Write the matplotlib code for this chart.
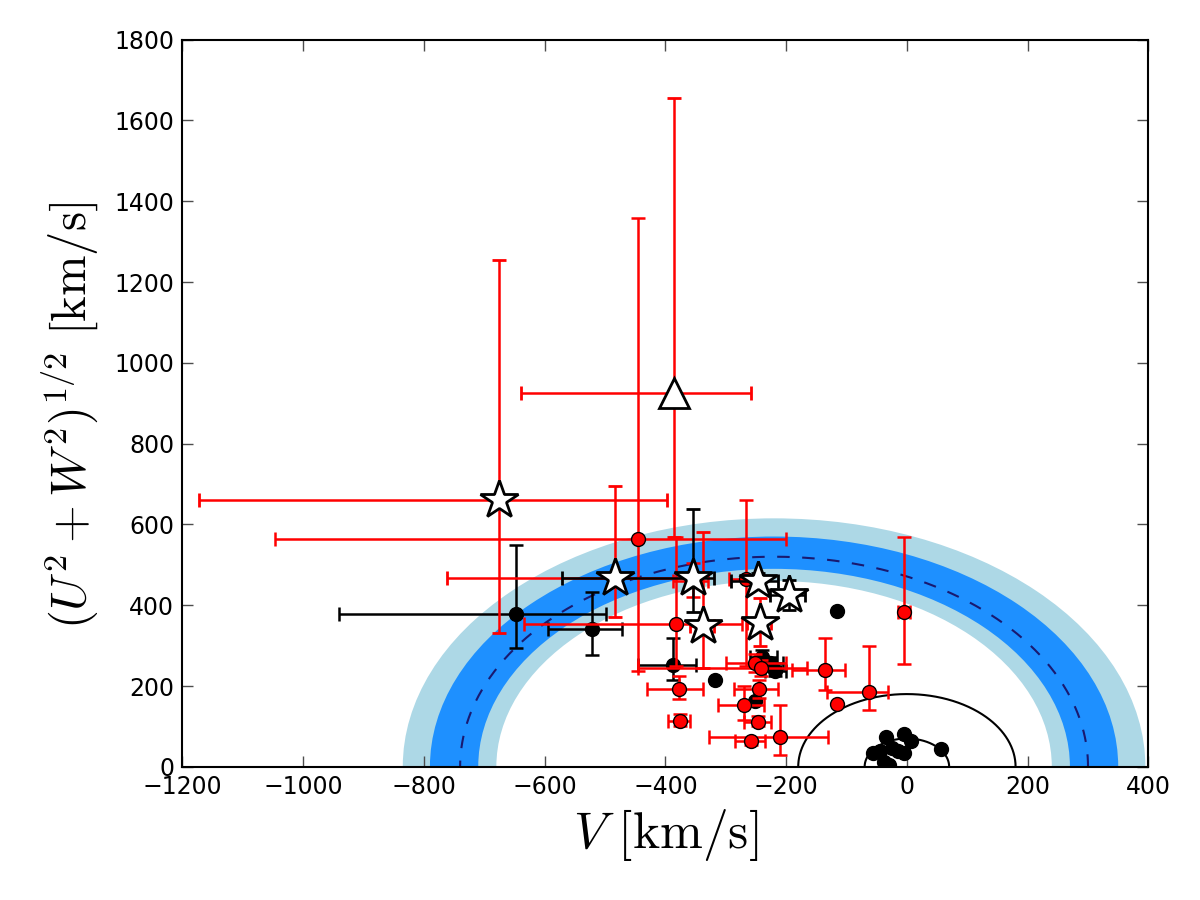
import numpy as np
import matplotlib
matplotlib.use('Agg')
import matplotlib.pyplot as plt
from matplotlib.patches import Wedge

plt.rcParams['mathtext.fontset'] = 'cm'

# escape speed bands (centre at -V_lsr, radii in km/s)
v_center = -220
band_outer = (460, 615)
band_inner = (490, 570)
v_esc = 520
thick_disk_r = 180
thin_disk_r = 70

# red points with errors: V, Y, V_lo, V_hi, Y_lo, Y_hi
red_v = [-446, -354, -267, -382, -4, -136, -62, -378, -376, -252, -242, -245, -269, -246, -259, -210]
red_y = [564, 459, 464, 354, 384, 240, 186, 192, 114, 257, 245, 192, 153, 111, 63, 75]
red_vlo = [-1046, -387, -295, -635, -15, -190, -132, -431, -395, -300, -445, -287, -313, -270, -285, -328]
red_vhi = [-200, -330, -240, -273, 5, -103, -32, -337, -360, -200, -165, -213, -236, -225, -235, -130]
red_ylo = [238, 421, 250, 250, 255, 190, 141, 168, 100, 235, 225, 170, 116, 100, 55, 30]
red_yhi = [1359, 505, 661, 570, 570, 318, 298, 224, 130, 280, 265, 215, 199, 125, 72, 152]
red_noerr_v = [-116]
red_noerr_y = [156]

# black points with errors
blk_v = [-648, -521, -387, -240, -226, -218]
blk_y = [379, 341, 252, 273, 257, 236]
blk_vlo = [-940, -594, -445, -260, -245, -235]
blk_vhi = [-499, -472, -350, -215, -205, -200]
blk_ylo = [293, 277, 215, 255, 245, 225]
blk_yhi = [548, 433, 318, 290, 270, 250]
blk_noerr_v = [-318, -251, -115, -34, -5, 7, 57, -56, -44, -25, -14, -4, -38, -30]
blk_noerr_y = [215, 164, 386, 75, 82, 65, 44, 34, 38, 46, 40, 34, 13, 5]

# stars
star_v = [-676, -484, -355, -247, -196, -244, -338]
star_y = [661, 468, 468, 459, 426, 356, 349]
star_vlo = [-1172, -761, -572, -291, -226, -265, -360]
star_vhi = [-397, -350, -320, -213, -168, -225, -320]
star_ylo = [332, 371, 383, 440, 389, 300, 245]
star_yhi = [1255, 695, 639, 480, 463, 418, 580]
star_ecol = ['red', 'red', 'black', 'black', 'black', 'red', 'red']

# triangle
tri_v, tri_y = -385, 925
tri_vlo, tri_vhi, tri_ylo, tri_yhi = -640, -259, 570, 1655


def asym(c, lo, hi):
    c = np.asarray(c, float)
    return [c - np.asarray(lo), np.asarray(hi) - c]


fig = plt.figure(figsize=(12, 9), dpi=100)
ax = fig.add_axes([0.152, 0.148, 0.805, 0.808])

ax.add_patch(Wedge((v_center, 0), band_outer[1], 0, 180,
                   width=band_outer[1] - band_outer[0], color='lightblue', lw=0, zorder=1))
ax.add_patch(Wedge((v_center, 0), band_inner[1], 0, 180,
                   width=band_inner[1] - band_inner[0], color='dodgerblue', lw=0, zorder=1))
th = np.linspace(0, np.pi, 400)
ax.plot(v_center + v_esc * np.cos(th), v_esc * np.sin(th), '--', color='midnightblue',
        lw=1.5, dashes=(6, 6), zorder=2)
ax.plot(thick_disk_r * np.cos(th), thick_disk_r * np.sin(th), 'k-', lw=1.5, zorder=2)
ax.plot(thin_disk_r * np.cos(th), thin_disk_r * np.sin(th), 'k-', lw=1.5, zorder=2)

ekw = dict(elinewidth=1.8, capsize=5, capthick=1.8, linestyle='none')

ax.errorbar(blk_v, blk_y, xerr=asym(blk_v, blk_vlo, blk_vhi), yerr=asym(blk_y, blk_ylo, blk_yhi),
            fmt='o', color='black', ms=10, zorder=3, **ekw)
ax.plot(blk_noerr_v, blk_noerr_y, 'o', color='black', ms=10, zorder=3)

ax.errorbar(red_v, red_y, xerr=asym(red_v, red_vlo, red_vhi), yerr=asym(red_y, red_ylo, red_yhi),
            fmt='o', mfc='red', mec='black', ecolor='red', ms=10, zorder=4, **ekw)
ax.plot(red_noerr_v, red_noerr_y, 'o', mfc='red', mec='black', ms=10, zorder=4)

ax.errorbar([tri_v], [tri_y], xerr=[[tri_v - tri_vlo], [tri_vhi - tri_v]],
            yerr=[[tri_y - tri_ylo], [tri_yhi - tri_y]],
            fmt='^', mfc='white', mec='black', mew=2, ecolor='red', ms=21, zorder=5, **ekw)

for i in range(len(star_v)):
    ax.errorbar([star_v[i]], [star_y[i]],
                xerr=[[star_v[i] - star_vlo[i]], [star_vhi[i] - star_v[i]]],
                yerr=[[star_y[i] - star_ylo[i]], [star_yhi[i] - star_y[i]]],
                fmt='*', mfc='white', mec='black', mew=2, ecolor=star_ecol[i],
                ms=29, zorder=5, **ekw)

ax.set_xlim(-1200, 400)
ax.set_ylim(0, 1800)
ax.set_xticks(np.arange(-1200, 401, 200))
ax.set_yticks(np.arange(0, 1801, 200))
ax.tick_params(direction='in', top=True, right=True, labelsize=17, length=8, width=1,
               color='0.3', pad=6)
for s in ax.spines.values():
    s.set_linewidth(1.5)
ax.set_xlabel(r'$V\ [\mathrm{km/s}]$', fontsize=37, labelpad=6)
ax.set_ylabel(r'$(U^2+W^2)^{1/2}\ [\mathrm{km/s}]$', fontsize=35)
ax.yaxis.set_label_coords(-0.085, 0.483)

fig.savefig('out.png', dpi=100)
